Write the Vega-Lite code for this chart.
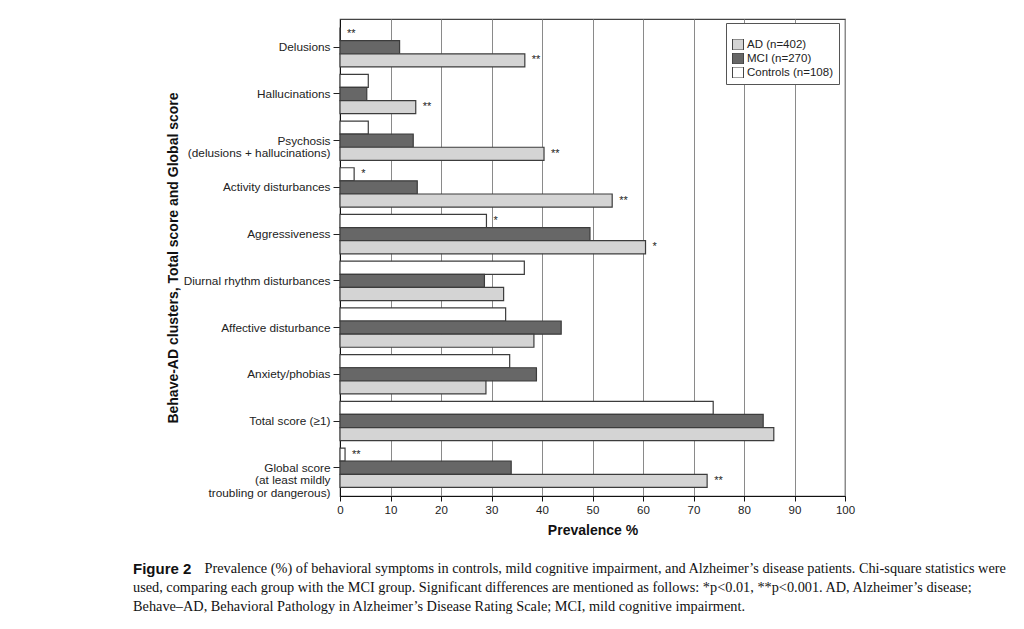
{
  "$schema": "https://vega.github.io/schema/vega-lite/v6.json",
  "width": 505,
  "height": 477,
  "autosize": "none",
  "padding": {"left": 340, "top": 19, "right": 179, "bottom": 133},
  "background": "white",
  "config": {
    "view": {"stroke": "#444", "strokeWidth": 1.2},
    "font": "Liberation Sans"
  },
  "datasets": {
    "bars": [
      {"cat": "Delusions", "group": "Controls (n=108)", "value": 0, "sig": "**"},
      {"cat": "Delusions", "group": "MCI (n=270)", "value": 11.8, "sig": ""},
      {"cat": "Delusions", "group": "AD (n=402)", "value": 36.6, "sig": "**"},
      {"cat": "Hallucinations", "group": "Controls (n=108)", "value": 5.6, "sig": ""},
      {"cat": "Hallucinations", "group": "MCI (n=270)", "value": 5.3, "sig": ""},
      {"cat": "Hallucinations", "group": "AD (n=402)", "value": 15.0, "sig": "**"},
      {"cat": "Psychosis (delusions + hallucinations)", "group": "Controls (n=108)", "value": 5.6, "sig": ""},
      {"cat": "Psychosis (delusions + hallucinations)", "group": "MCI (n=270)", "value": 14.5, "sig": ""},
      {"cat": "Psychosis (delusions + hallucinations)", "group": "AD (n=402)", "value": 40.4, "sig": "**"},
      {"cat": "Activity disturbances", "group": "Controls (n=108)", "value": 2.8, "sig": "*"},
      {"cat": "Activity disturbances", "group": "MCI (n=270)", "value": 15.3, "sig": ""},
      {"cat": "Activity disturbances", "group": "AD (n=402)", "value": 53.9, "sig": "**"},
      {"cat": "Aggressiveness", "group": "Controls (n=108)", "value": 29.0, "sig": "*"},
      {"cat": "Aggressiveness", "group": "MCI (n=270)", "value": 49.5, "sig": ""},
      {"cat": "Aggressiveness", "group": "AD (n=402)", "value": 60.5, "sig": "*"},
      {"cat": "Diurnal rhythm disturbances", "group": "Controls (n=108)", "value": 36.5, "sig": ""},
      {"cat": "Diurnal rhythm disturbances", "group": "MCI (n=270)", "value": 28.6, "sig": ""},
      {"cat": "Diurnal rhythm disturbances", "group": "AD (n=402)", "value": 32.4, "sig": ""},
      {"cat": "Affective disturbance", "group": "Controls (n=108)", "value": 32.8, "sig": ""},
      {"cat": "Affective disturbance", "group": "MCI (n=270)", "value": 43.8, "sig": ""},
      {"cat": "Affective disturbance", "group": "AD (n=402)", "value": 38.4, "sig": ""},
      {"cat": "Anxiety/phobias", "group": "Controls (n=108)", "value": 33.6, "sig": ""},
      {"cat": "Anxiety/phobias", "group": "MCI (n=270)", "value": 38.9, "sig": ""},
      {"cat": "Anxiety/phobias", "group": "AD (n=402)", "value": 28.9, "sig": ""},
      {"cat": "Total score (≥1)", "group": "Controls (n=108)", "value": 73.9, "sig": ""},
      {"cat": "Total score (≥1)", "group": "MCI (n=270)", "value": 83.8, "sig": ""},
      {"cat": "Total score (≥1)", "group": "AD (n=402)", "value": 85.9, "sig": ""},
      {"cat": "Global score (at least mildly troubling or dangerous)", "group": "Controls (n=108)", "value": 1.0, "sig": "**"},
      {"cat": "Global score (at least mildly troubling or dangerous)", "group": "MCI (n=270)", "value": 33.9, "sig": ""},
      {"cat": "Global score (at least mildly troubling or dangerous)", "group": "AD (n=402)", "value": 72.7, "sig": "**"}
    ]
  },
  "data": {"name": "bars"},
  "title": {
    "text": "Figure 2",
    "subtitle": [
      "\u200b\u00a0\u00a0\u00a0\u00a0\u00a0\u00a0\u00a0\u00a0\u00a0\u00a0\u00a0\u00a0\u00a0\u00a0\u00a0\u00a0\u00a0\u00a0\u00a0\u00a0Prevalence (%) of behavioral symptoms in controls, mild cognitive impairment, and Alzheimer’s disease patients. Chi-square statistics were",
      "used, comparing each group with the MCI group. Significant differences are mentioned as follows: *p<0.01, **p<0.001. AD, Alzheimer’s disease;",
      "Behave–AD, Behavioral Pathology in Alzheimer’s Disease Rating Scale; MCI, mild cognitive impairment."
    ],
    "orient": "bottom",
    "anchor": "start",
    "frame": "group",
    "dx": -207,
    "offset": 24,
    "font": "Liberation Sans",
    "fontSize": 15,
    "fontWeight": "bold",
    "color": "#111",
    "subtitleFont": "Liberation Serif",
    "subtitleFontSize": 14.3,
    "subtitleLineHeight": 19,
    "subtitlePadding": -15,
    "subtitleColor": "#111"
  },
  "encoding": {
    "y": {
      "field": "cat",
      "type": "nominal",
      "sort": ["Delusions", "Hallucinations", "Psychosis (delusions + hallucinations)", "Activity disturbances", "Aggressiveness", "Diurnal rhythm disturbances", "Affective disturbance", "Anxiety/phobias", "Total score (≥1)", "Global score (at least mildly troubling or dangerous)"],
      "scale": {"paddingInner": 0.158, "paddingOuter": 0.184},
      "axis": {
        "title": "Behave-AD clusters, Total score and Global score",
        "titleFontSize": 14,
        "titleFontWeight": "bold",
        "titleColor": "#111",
        "titlePadding": 3,
        "labelFontSize": 11.8,
        "labelColor": "#222",
        "labelLineHeight": 12.5,
        "labelLimit": 300,
        "labelPadding": 3,
        "tickSize": 7,
        "tickColor": "#222",
        "domainColor": "#111",
        "labelExpr": "datum.label == 'Psychosis (delusions + hallucinations)' ? ['Psychosis', '(delusions + hallucinations)'] : datum.label == 'Global score (at least mildly troubling or dangerous)' ? ['Global score', '(at least mildly', 'troubling or dangerous)'] : datum.label"
      }
    },
    "yOffset": {
      "field": "group",
      "type": "nominal",
      "sort": ["Controls (n=108)", "MCI (n=270)", "AD (n=402)"],
      "scale": {"paddingInner": 0, "paddingOuter": 0}
    },
    "x": {
      "field": "value",
      "type": "quantitative",
      "scale": {"domain": [0, 100]},
      "axis": {
        "title": "Prevalence %",
        "titleFontSize": 14,
        "titleFontWeight": "bold",
        "titleColor": "#111",
        "titlePadding": 8,
        "values": [0, 10, 20, 30, 40, 50, 60, 70, 80, 90, 100],
        "grid": true,
        "gridColor": "#8a8a8a",
        "gridWidth": 1,
        "tickSize": 5,
        "tickColor": "#111",
        "domainColor": "#111",
        "labelFontSize": 11.5,
        "labelColor": "#222",
        "labelPadding": 3,
        "labelFlush": false
      }
    }
  },
  "layer": [
    {
      "mark": {"type": "bar", "stroke": "#3c3c3c", "strokeWidth": 1.2},
      "encoding": {
        "fill": {
          "field": "group",
          "type": "nominal",
          "scale": {"domain": ["AD (n=402)", "MCI (n=270)", "Controls (n=108)"], "range": ["#d4d4d4", "#676767", "#ffffff"]},
          "legend": {
            "title": " ",
            "orient": "none",
            "legendX": 386,
            "legendY": 4,
            "strokeColor": "#555",
            "fillColor": "white",
            "padding": 6,
            "symbolType": "square",
            "symbolSize": 121,
            "symbolStrokeColor": "#444",
            "symbolStrokeWidth": 1,
            "labelFontSize": 11.5,
            "labelColor": "#222",
            "titleFontSize": 8,
            "titlePadding": 2,
            "clipHeight": 11,
            "rowPadding": 2,
            "labelOffset": 3
          }
        }
      }
    },
    {
      "transform": [{"filter": "datum.sig != ''"}],
      "mark": {"type": "text", "align": "left", "baseline": "middle", "dx": 7, "fontSize": 11, "fill": "#222"},
      "encoding": {"text": {"field": "sig"}}
    }
  ]
}
